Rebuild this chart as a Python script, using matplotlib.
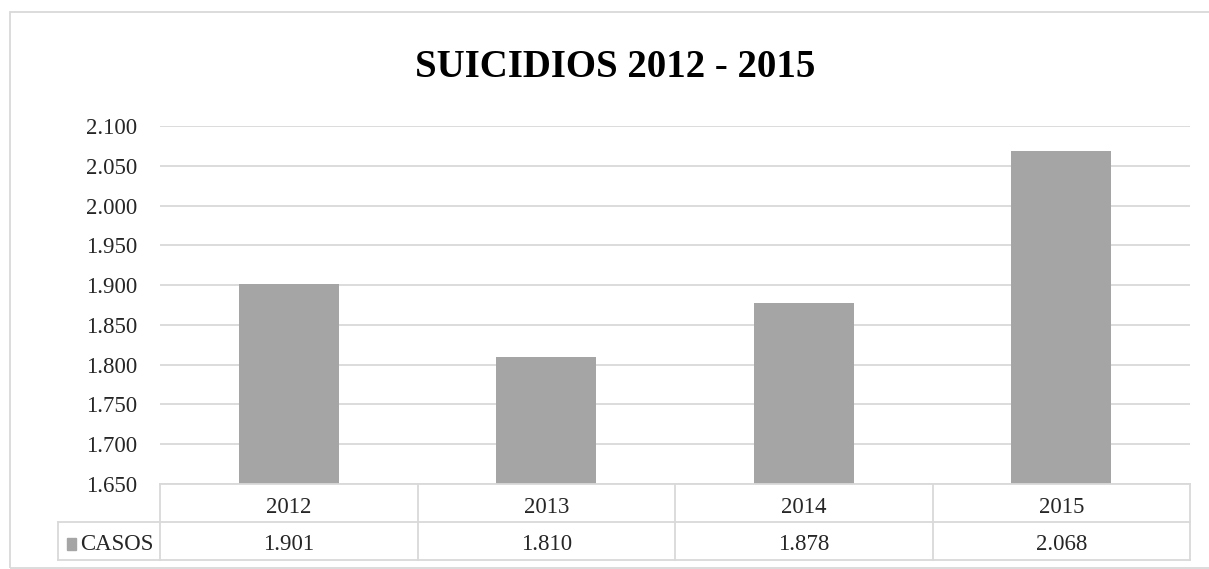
import matplotlib.pyplot as plt
from matplotlib.lines import Line2D
from matplotlib.patches import Rectangle

plt.rcParams['font.family'] = ['Liberation Serif', 'DejaVu Serif']

# datos
years = ['2012', '2013', '2014', '2015']
casos = [1901, 1810, 1878, 2068]
y_ticks = [1650, 1700, 1750, 1800, 1850, 1900, 1950, 2000, 2050, 2100]
serie = 'CASOS'
titulo = 'SUICIDIOS 2012 - 2015'

bar_color = '#a5a5a5'
line_color = '#d9d9d9'
text_color = '#262626'


def fmt(v):
    return f'{v:,.0f}'.replace(',', '.')


W, H = 1209, 569
fig = plt.figure(figsize=(W / 100, H / 100), dpi=100)

# area del grafico (en pixeles)
px_left, px_right, px_top, px_bottom = 160, 1190, 126, 484
ax = fig.add_axes([px_left / W, 1 - px_bottom / H,
                   (px_right - px_left) / W, (px_bottom - px_top) / H])

x = range(len(years))
ax.bar(x, casos, width=0.39, color=bar_color, zorder=2)
ax.set_xlim(-0.5, len(years) - 0.5)
ax.set_ylim(y_ticks[0], y_ticks[-1])
ax.set_yticks(y_ticks)
ax.set_yticklabels([fmt(v) for v in y_ticks], fontsize=16.5, color=text_color)
ax.tick_params(axis='y', length=0, pad=16.5)
ax.set_xticks([])
ax.grid(axis='y', color=line_color, linewidth=1.3, zorder=0)
for s in ax.spines.values():
    s.set_visible(False)

fig.text(615 / W, 1 - 77 / H, titulo, ha='center', va='baseline',
         fontsize=28, fontweight='bold', color='black')

# tabla de datos
def fx(px):
    return px / W


def fy(py):
    return 1 - py / H


row1_top, row2_top, row2_bottom = 484, 522, 560
legend_left = 58
col_w = (px_right - px_left) / len(years)

lines = [
    ((px_left, px_right), (row1_top, row1_top)),
    ((legend_left, px_right), (row2_top, row2_top)),
    ((legend_left, px_right), (row2_bottom, row2_bottom)),
    ((legend_left, legend_left), (row2_top, row2_bottom)),
]
for i in range(len(years) + 1):
    xp = px_left + i * col_w
    lines.append(((xp, xp), (row1_top, row2_bottom)))
for (xs, ys) in lines:
    fig.add_artist(Line2D([fx(v) for v in xs], [fy(v) for v in ys],
                          color=line_color, linewidth=1.3))

for i, (yr, v) in enumerate(zip(years, casos)):
    xc = px_left + (i + 0.5) * col_w
    fig.text(fx(xc), fy(513), yr, ha='center', va='baseline',
             fontsize=16.5, color=text_color)
    fig.text(fx(xc), fy(550), fmt(v), ha='center', va='baseline',
             fontsize=16.5, color=text_color)

fig.add_artist(Rectangle((fx(67), fy(550)), 9 / W, 12 / H,
                         color=bar_color, transform=fig.transFigure))
fig.text(fx(80), fy(550), serie, ha='left', va='baseline',
         fontsize=16.5, color=text_color)

# borde exterior del grafico
fig.add_artist(Rectangle((fx(10), fy(568)), W / W, (568 - 12) / H,
                         fill=False, edgecolor=line_color, linewidth=1.3,
                         transform=fig.transFigure))

fig.savefig('out.png', dpi=100)
